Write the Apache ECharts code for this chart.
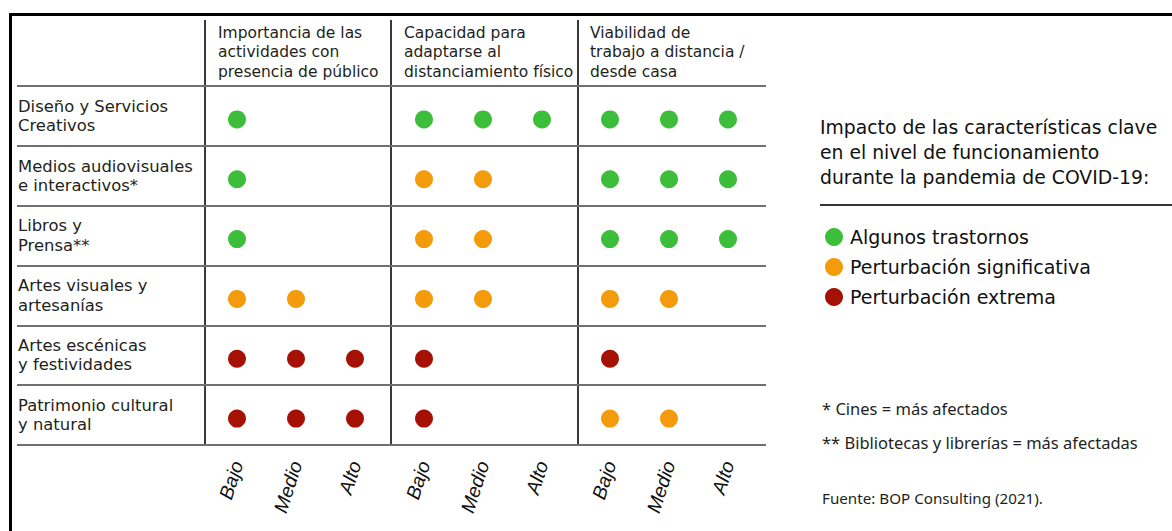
<!DOCTYPE html>
<html>
<head>
<meta charset="utf-8">
<script src="https://cdn.jsdelivr.net/npm/echarts@6/dist/echarts.min.js"></script>
<style>
  html, body { margin: 0; padding: 0; background: #ffffff; }
  #chart { width: 1172px; height: 531px; }
</style>
</head>
<body>
<div id="chart"></div>
<script>
// ---- Data ----
const rowLabels = [
  'Diseño y Servicios\nCreativos',
  'Medios audiovisuales\ne interactivos*',
  'Libros y\nPrensa**',
  'Artes visuales y\nartesanías',
  'Artes escénicas\ny festividades',
  'Patrimonio cultural\ny natural'
];
const levels = ['Bajo', 'Medio', 'Alto'];
const groupTitles = [
  'Importancia de las\nactividades con\npresencia de público',
  'Capacidad para\nadaptarse al\ndistanciamiento físico',
  'Viabilidad de\ntrabajo a distancia /\ndesde casa'
];
const impactNames = ['Algunos trastornos', 'Perturbación significativa', 'Perturbación extrema'];
// 0 = sin punto, 1 = Algunos trastornos, 2 = Perturbación significativa, 3 = Perturbación extrema
const importancia = [[1,0,0],[1,0,0],[1,0,0],[2,2,0],[3,3,3],[3,3,3]];
const capacidad   = [[1,1,1],[2,2,0],[2,2,0],[2,2,0],[3,0,0],[3,0,0]];
const viabilidad  = [[1,1,1],[1,1,1],[1,1,1],[2,2,0],[3,0,0],[2,2,0]];
const legendTitle = 'Impacto de las características clave\nen el nivel de funcionamiento\ndurante la pandemia de COVID-19:';
const footnotes = ['* Cines = más afectados', '** Bibliotecas y librerías = más afectadas'];
const sourceText = 'Fuente: BOP Consulting (2021).';

// ---- Style ----
const impactColors = ['#3dbe3a', '#f49b0c', '#a61106'];
const textColor = '#231f20';
const font = '"DejaVu Sans", sans-serif';
const noteFont = '"Noto Sans", sans-serif';
const axisFont = '"Liberation Sans", Arial, sans-serif';
const groupsData = [importancia, capacidad, viabilidad];
const groupLeft = [207.5, 394.5, 580.5];
const colW = 59;
const dotTop = 89.5, tableTop = 86, tableH = 359;

const grids = [{ left: 17, top: tableTop, width: 749, height: tableH }];
const xAxes = [{ gridIndex: 0, type: 'value', min: 0, max: 1, show: false }];
const yAxes = [{
  gridIndex: 0, type: 'category', inverse: true, data: rowLabels,
  axisLine: { show: false }, axisTick: { show: false },
  splitLine: { show: true, lineStyle: { color: '#707070', width: 2 } },
  axisLabel: { align: 'left', margin: -1, fontFamily: font, fontSize: 16.4, lineHeight: 19.3, color: textColor, padding: [0, 0, 4, 0] }
}];
const series = [];

groupsData.forEach((mat, g) => {
  const gi = g + 1;
  grids.push({ left: groupLeft[g], top: dotTop, width: colW * 3, height: tableH });
  xAxes.push({
    gridIndex: gi, type: 'category', data: levels,
    axisLine: { show: false }, axisTick: { show: false }, splitLine: { show: false },
    axisLabel: { rotate: 72, margin: 13, fontFamily: axisFont, fontStyle: 'italic', fontSize: 19.5, color: '#111' }
  });
  yAxes.push({ gridIndex: gi, type: 'category', inverse: true, data: rowLabels, show: false });
  impactNames.forEach((name, k) => {
    const pts = [];
    mat.forEach((row, r) => row.forEach((v, l) => { if (v === k + 1) pts.push([levels[l], rowLabels[r]]); }));
    series.push({
      type: 'scatter', name: name, xAxisIndex: gi, yAxisIndex: gi,
      symbol: 'circle', symbolSize: 18, data: pts,
      itemStyle: { color: impactColors[k], opacity: 1 }, silent: true
    });
  });
});

const graphic = [
  // outer frame
  { type: 'line', shape: { x1: 9, y1: 14.5, x2: 1172, y2: 14.5 }, style: { stroke: '#000', lineWidth: 3 } },
  { type: 'line', shape: { x1: 10.5, y1: 13, x2: 10.5, y2: 531 }, style: { stroke: '#000', lineWidth: 3 } },
  // column separators
  ...[205, 391, 578].map(x => ({ type: 'line', shape: { x1: x, y1: 20, x2: x, y2: 445 }, style: { stroke: '#3a3a3a', lineWidth: 2 } })),
  // group headers
  ...groupTitles.map((t, i) => ({
    type: 'text', left: [218, 404, 590][i], top: 23,
    style: { text: t, font: '15.5px "DejaVu Sans", sans-serif', lineHeight: 19.5, fill: textColor }
  })),
  // rule under legend title
  { type: 'line', shape: { x1: 820, y1: 205, x2: 1172, y2: 205 }, style: { stroke: '#333', lineWidth: 2 } },
  // footnotes
  ...footnotes.map((t, i) => ({
    type: 'text', left: 822, top: [400, 434][i],
    style: { text: t, font: '16.5px "Noto Sans", sans-serif', fill: textColor }
  })),
  { type: 'text', left: 822, top: 490, style: { text: sourceText, font: '15.2px "Noto Sans", sans-serif', fill: textColor } }
];

const chart = echarts.init(document.getElementById('chart'), null, { renderer: 'svg' });
chart.setOption({
  animation: false,
  backgroundColor: '#ffffff',
  title: {
    text: legendTitle, left: 815, top: 110,
    textStyle: { fontFamily: font, fontSize: 18.8, fontWeight: 'normal', lineHeight: 25, color: '#111' }
  },
  legend: {
    data: impactNames, orient: 'vertical', left: 820, top: 222,
    icon: 'circle', itemWidth: 18, itemHeight: 18, itemGap: 10,
    selectedMode: false,
    textStyle: { fontFamily: font, fontSize: 19, lineHeight: 20, color: '#111', padding: [0, 0, 0, 2] }
  },
  grid: grids, xAxis: xAxes, yAxis: yAxes, series: series, graphic: graphic
});
</script>
</body>
</html>
